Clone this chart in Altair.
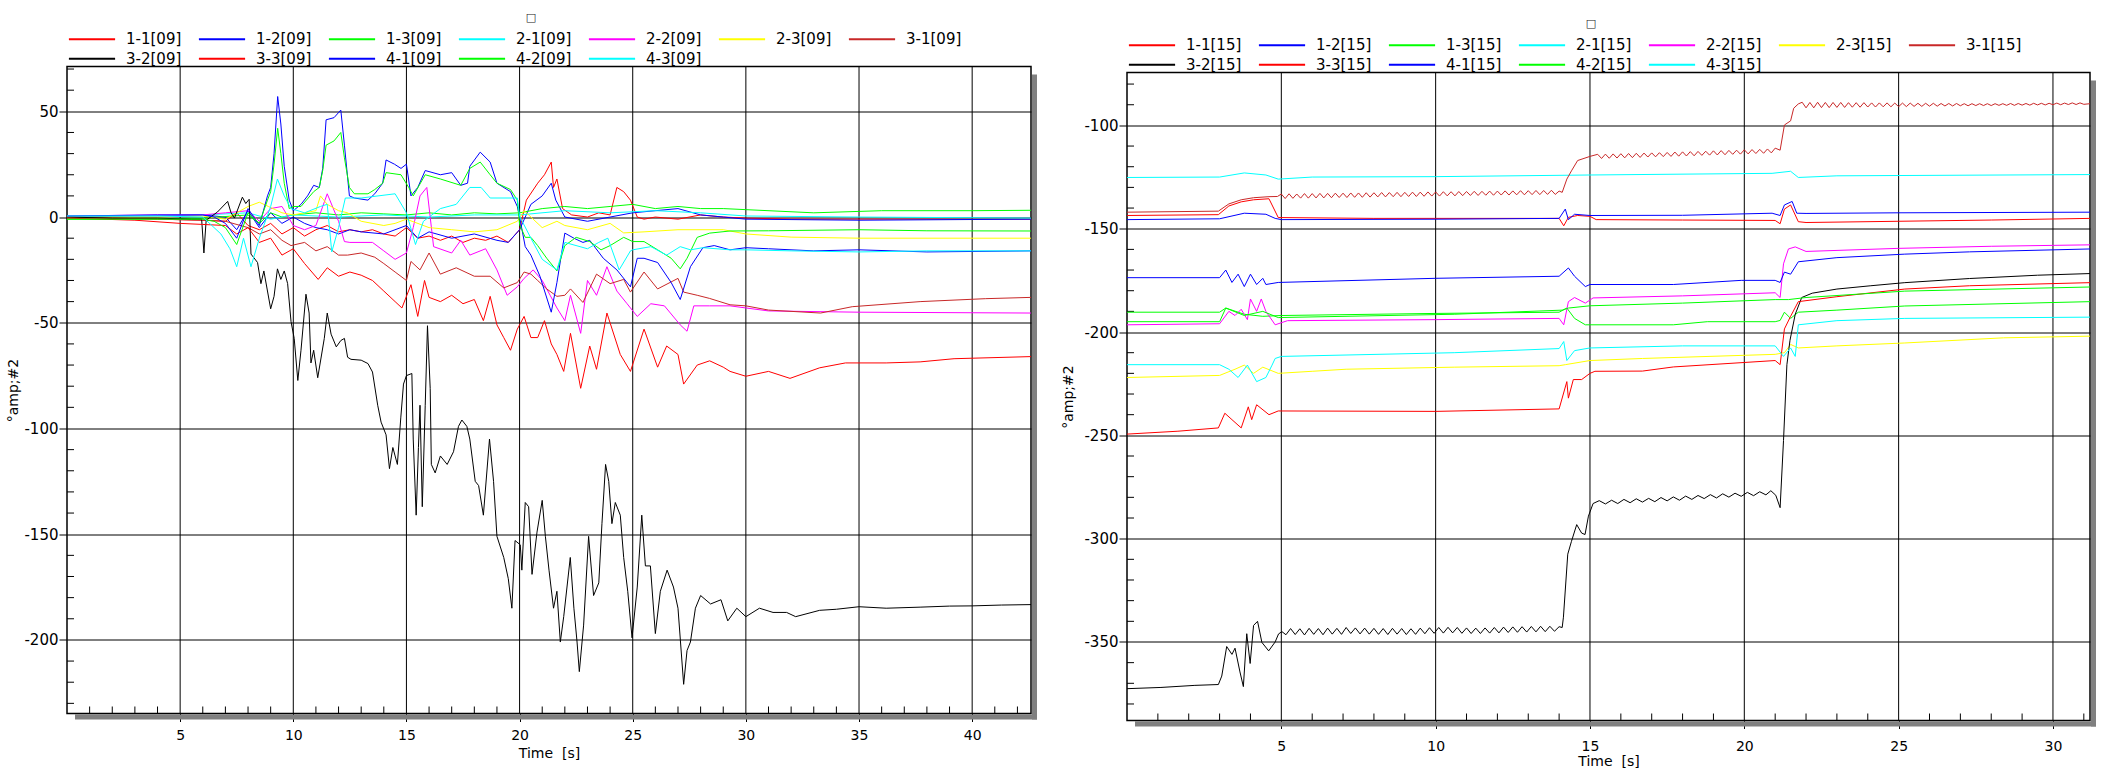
import altair as alt
import pandas as pd

# ---------------- legend labels & colours ----------------
CODES = ["1-1", "1-2", "1-3", "2-1", "2-2", "2-3", "3-1", "3-2", "3-3", "4-1", "4-2", "4-3"]
COLORS = ["#FF0000", "#0000FF", "#00FF00", "#00FFFF", "#FF00FF", "#FFFF00",
          "#C82828", "#000000", "#FF0000", "#0000FF", "#00FF00", "#00FFFF"]

# ---------------- left panel [09]  (time s, value) ----------------
P09_11 = [(0,0),(2,-0.5),(4,-1),(6,-1.5),(7,-2),(7.5,2),(8,-4),(8.5,-6),(9,-3),(9.5,-8),(10,-5),(10.5,-9),(11,-6),(11.5,-4),(12,-7),(12.5,-6),(13,-7),(13.5,-6),(14,-8),(14.5,-9),(15,-5),(15.5,-10),(16,-9),(16.5,-11),(17,-9),(17.5,-12),(18,-10),(18.5,-11),(19,-9),(19.5,-12),(20,-6),(20.3,8),(20.8,16),(21.1,20),(21.4,26),(21.5,14),(21.65,18),(21.9,4),(22.3,1),(23,0),(23.5,2),(24,1),(24.3,14),(24.6,12),(24.9,8),(25.2,0),(25.5,-1),(26,0),(27,-1),(28,1),(29,0),(30,-0.5),(32,-1),(35,-1),(38,-1),(42.6,-1)]
P09_12 = [(0,0),(3,0.5),(6,1),(7,0),(7.5,-6),(8,3),(8.5,-5),(9,2),(9.5,-3),(10,0),(10.5,-3),(11,-5),(11.5,-6),(12,-8),(12.5,-6),(13,-7),(14,-8),(15,-4),(15.5,-10),(16,-7),(17,-10),(18,-8),(19,-11),(19.5,-12),(20,-6),(20.5,6),(21,10),(21.4,16),(21.6,8),(22,0),(23,-2),(24,0),(25,2),(26,3),(27,4),(28,1),(29,0),(30,-1),(35,-1.5),(42.6,-1)]
P09_13 = [(0,-1),(3,-1),(6,-0.5),(8,1),(8.5,-3),(9,2),(9.5,0),(10,1),(11,2),(12,1),(13,2),(14,1.5),(15,1),(16,2),(17,1),(18,2),(19,1.5),(20,2),(21,4),(22,5),(23,4),(24,5),(25,6),(26,4),(27,5),(28,4),(29,4),(30,3.5),(33,2),(36,3),(40,3),(42.6,3.2)]
P09_21 = [(0,0.5),(4,0.5),(6,1),(8,2),(9,-1),(10,1),(12,0),(14,1),(16,0),(18,1),(20,1),(22,3),(24,2),(26,3),(28,2),(30,0.5),(35,0),(42.6,-0.5)]
P09_22 = [(0,0.5),(4,1),(6,1),(7,2),(8,3),(8.5,-2),(9,4),(9.5,5),(10,-4),(10.5,-6),(11,-4),(11.5,11),(12,-2),(12.26,-11.6),(12.5,-12),(13.5,-12),(14,-16),(14.5,-20),(15,-17),(15.3,-5),(15.6,10),(15.9,14),(16.2,-14),(17,-17),(17.4,-11),(17.8,-18),(18.5,-15),(19,-25),(19.45,-37),(19.9,-33),(20.2,-29),(20.6,-25),(21,-30),(21.35,-37),(21.65,-43),(22,-49),(22.25,-37),(22.7,-55),(23,-30),(23.4,-37),(23.86,-23.5),(24.3,-35),(24.75,-41),(25.2,-47),(25.8,-41),(26.4,-42),(27.1,-51),(27.4,-54),(27.7,-42),(28.4,-42),(29.3,-42),(30,-43),(31,-44.4),(35,-45),(42.6,-45.4)]
P09_23 = [(0,0),(4,0),(6,0.5),(7,-1),(8,5),(8.5,7),(8.9,5),(9.5,2),(10,1),(11,3),(11.2,10),(11.5,6),(12,3),(12.4,2),(13,-2),(14,-4),(14.5,-3),(15,-1),(16,-5),(17,-6),(18,-7),(19,-6),(19.9,-2),(20.2,3),(20.6,-1),(21,-5),(21.65,-2),(22,-4),(23,-6),(24,-3),(24.6,-7.5),(25.5,-7),(27,-6),(29,-6),(30,-8),(32,-9.5),(35,-10),(42.6,-10)]
P09_31 = [(0,0),(4,-1),(6,-1.5),(7,-2),(8,-5),(8.5,-8),(9,-6),(9.5,-11),(9.9,-13.5),(10.5,-12),(11,-16),(11.5,-14),(12,-18),(12.4,-18),(13,-17),(13.6,-19),(14,-22),(14.5,-26),(15,-30),(15.2,-21),(15.6,-25),(16,-17),(16.5,-27),(17.2,-24),(18,-28),(18.7,-28),(19.3,-33.5),(19.9,-31),(20.2,-26),(20.5,-27),(20.8,-30),(21.2,-34),(21.65,-37.5),(22,-37),(22.25,-34),(22.8,-40.4),(23.4,-27),(24,-31.5),(24.6,-29.5),(24.9,-35.5),(25.5,-26),(26.1,-34),(27,-29),(27.25,-35.5),(27.85,-37),(28.4,-38.5),(29.3,-41.5),(30,-42),(31,-44),(33.3,-45.4),(34.7,-42.4),(37.7,-40),(40.6,-38.6),(42.6,-38)]
P09_32 = [(0,0),(2,-0.5),(4,-0.5),(5.5,-1),(5.95,-1),(6.05,-17),(6.15,-1.5),(6.65,2.4),(7.1,7.4),(7.25,2),(7.4,-0.5),(7.75,9.4),(7.9,6.4),(8.05,8.4),(8.13,-17.5),(8.42,-21.5),(8.57,-31.5),(8.7,-25.5),(9.0,-43.4),(9.15,-37.5),(9.3,-24.5),(9.45,-29.5),(9.6,-25.5),(9.75,-31.5),(9.9,-49.4),(10.04,-57.4),(10.2,-77.3),(10.34,-63),(10.56,-36.5),(10.7,-45.4),(10.78,-69),(10.9,-63),(11.08,-76),(11.37,-57.4),(11.5,-45.4),(11.67,-55.4),(11.9,-61.4),(12.1,-58.4),(12.26,-57.4),(12.4,-66.3),(12.55,-67.3),(13.0,-67.7),(13.3,-69.3),(13.5,-73.3),(13.73,-89),(13.88,-97),(14.1,-103),(14.25,-119),(14.4,-109),(14.5,-113),(14.6,-117),(14.75,-95),(14.87,-79),(15.0,-75),(15.24,-74),(15.3,-105),(15.43,-141),(15.53,-109),(15.6,-89),(15.7,-137),(15.83,-89),(15.93,-51.4),(16.05,-81),(16.1,-117),(16.27,-121),(16.5,-113),(16.8,-117),(17.08,-111),(17.3,-99),(17.45,-96),(17.67,-99),(17.8,-105),(18.04,-125),(18.19,-127),(18.4,-141),(18.67,-105),(18.85,-125),(19.0,-151),(19.3,-161),(19.5,-171),(19.66,-185),(19.8,-153),(20.03,-155),(20.1,-167),(20.25,-135),(20.4,-137),(20.55,-169),(20.77,-149),(21.0,-134),(21.14,-151),(21.3,-167),(21.5,-185),(21.65,-177),(21.8,-201),(21.95,-189),(22.24,-161),(22.4,-185),(22.54,-201),(22.64,-215),(22.83,-193),(23.05,-151),(23.27,-179),(23.5,-173),(23.64,-145),(23.8,-117),(23.94,-125),(24.08,-145),(24.23,-135),(24.45,-141),(24.6,-161),(24.78,-177),(24.97,-199),(25.2,-175),(25.4,-141),(25.56,-165),(25.78,-165),(26.0,-197),(26.22,-177),(26.52,-167),(26.8,-175),(27.0,-185),(27.25,-221),(27.4,-205),(27.55,-201),(27.77,-185),(28.0,-179),(28.44,-183),(28.9,-181),(29.2,-191),(29.6,-185),(30.0,-189),(30.6,-185),(31.2,-187),(31.8,-187),(32.2,-189),(33.26,-186),(34,-185.5),(35,-184.3),(36.2,-185),(37.7,-184.5),(39,-184),(40,-183.9),(41.3,-183.5),(42.6,-183.3)]
P09_33 = [(0,-0.5),(3,-1.5),(5,-3),(6,-3.5),(7,-4),(7.5,-8),(8,-5),(8.5,-12),(9,-10),(9.5,-18),(10,-15),(10.5,-22),(11.1,-29.5),(11.5,-24),(12,-28),(12.5,-26),(13,-27.5),(13.5,-30),(14,-35),(14.5,-40),(14.8,-43),(15.2,-32),(15.5,-47),(15.8,-30),(16,-38),(16.5,-40),(17,-37),(17.5,-41),(18,-39),(18.4,-49),(18.7,-37.5),(19,-51),(19.3,-57),(19.6,-63),(19.9,-53),(20.2,-47),(20.5,-57),(20.8,-57),(21.1,-49),(21.4,-60),(21.65,-65),(21.95,-73),(22.25,-55),(22.7,-81),(23.1,-61),(23.4,-72),(23.86,-45.4),(24.45,-65),(24.9,-73),(25.5,-53),(26.1,-71),(26.5,-61),(27,-65),(27.25,-79),(27.85,-70),(28.4,-68),(29,-71),(29.3,-73),(30,-75.3),(31,-73),(31.95,-76.3),(33.26,-71.3),(34.4,-69),(36.2,-69),(37.7,-68.5),(39.2,-67),(42.6,-66)]
P09_41 = [(0,0.5),(4,1),(6,1),(6.5,0),(7,-3),(7.5,-10),(8,4),(8.5,-4),(8.86,10),(9.0,14),(9.15,30),(9.31,57),(9.45,44),(9.6,24),(9.82,8),(10.0,3),(10.34,6),(10.63,10),(10.9,15),(11.15,14),(11.3,23),(11.45,46),(11.8,47),(12.1,50.6),(12.26,34),(12.48,10),(12.7,9),(13.3,8),(13.6,11),(13.95,16),(14.1,27),(14.47,25),(14.76,23),(15.0,25),(15.2,10),(15.5,14),(15.83,22),(16.5,20),(17.0,21),(17.4,15),(17.7,16),(17.8,24),(18.26,30.7),(18.7,26),(19.0,16),(19.6,12),(19.9,5),(20.0,0),(20.25,-14),(20.5,-18),(20.9,-28),(21.4,-45),(21.65,-31),(22.0,-7.6),(22.4,-10),(22.8,-12),(23.1,-11),(23.7,-19.5),(24.3,-25),(24.9,-33),(25.2,-19.5),(25.5,-19.5),(26.1,-21.5),(26.7,-31),(27.1,-39),(27.55,-23.5),(28.1,-14.5),(28.6,-13.5),(29.3,-15.5),(30,-14.5),(31,-15),(33,-16),(35,-15.5),(38,-16.5),(42.6,-16)]
P09_42 = [(0,-1),(4,-1),(6,-1),(6.5,-2),(7,-5),(7.5,-13),(8,2),(8.5,-3),(8.86,8),(9.0,12),(9.15,25),(9.31,42),(9.45,30),(9.6,16),(9.82,4),(10.0,5),(10.34,5),(10.9,12),(11.15,14),(11.3,22),(11.45,34),(11.8,36),(12.1,40),(12.26,28),(12.48,14),(12.7,11),(13.3,11),(13.6,13),(13.95,16),(14.1,21),(14.76,20),(15.1,14),(15.3,10),(15.83,20),(16.5,18),(17.4,15),(17.8,23),(18.26,26),(18.7,20),(19.0,16),(19.6,13),(19.9,8),(20.0,-3.6),(20.25,-9.6),(20.5,-9.6),(20.8,-13.5),(21.2,-19.5),(21.65,-25.5),(22.0,-13.5),(22.5,-9.6),(23.1,-11.6),(23.6,-15.5),(24.0,-13.5),(24.6,-9.6),(25.0,-11.6),(25.5,-11.6),(26.1,-15.5),(26.7,-19.5),(27.1,-24.5),(27.4,-19.5),(27.85,-9.6),(28.4,-7.6),(29.3,-6.6),(31,-6.5),(35,-6),(38,-6.5),(42.6,-6.6)]
P09_43 = [(0,0.5),(4,0.5),(6,0),(6.8,-8),(7.2,-15),(7.5,-23.5),(7.8,-10),(8.13,-23.5),(8.5,-10),(9.0,5),(9.3,18),(9.6,10),(9.9,4),(10.5,2),(11.2,5),(11.5,6),(11.7,-16.5),(12.0,-5),(12.3,9),(13,9),(14.5,11),(15.0,2),(15.4,-13),(15.75,-2),(16.5,4),(17.2,6),(17.8,14),(18.3,14),(18.7,9),(19.9,9),(20.0,0.4),(20.5,-10),(21.0,-20),(21.65,-25),(22.0,-12),(23.0,-15),(23.5,-12),(23.9,-10),(24.4,-25),(24.9,-16),(25.0,-15.5),(25.8,-14),(26.5,-18),(27.1,-14),(27.55,-15.5),(28.1,-14.5),(29.3,-15.5),(30,-15.5),(32,-16),(35,-16.5),(38,-16),(42.6,-16)]

# ---------------- right panel [15]  (time s, value) ----------------
P15_11 = [(0,-143.6),(2.96,-143.2),(3.3,-139),(3.7,-137),(4.1,-136),(4.6,-135.5),(4.9,-144.6),(8,-145),(14.0,-145),(14.15,-148.6),(14.3,-144.5),(14.6,-143.6),(15,-144),(15.2,-145.6),(18,-145.8),(21.0,-146),(21.16,-147.6),(21.3,-140.5),(21.5,-138.5),(21.75,-146.6),(22,-147),(25,-146.4),(28,-145.8),(31.2,-145)]
P15_12 = [(0,-145.6),(3,-145.2),(3.8,-142.5),(4.5,-143),(4.8,-145),(5,-145.6),(10,-145.4),(14.0,-145),(14.2,-140.5),(14.3,-145.6),(14.5,-143),(15,-143.6),(18,-143.5),(20.9,-142.5),(21.16,-143.6),(21.3,-138.5),(21.55,-136.8),(21.7,-142.5),(22,-142.6),(25,-142.3),(31.2,-142)]
P15_13 = [(0,-190.4),(3,-190.4),(3.2,-188.4),(3.8,-191.4),(4.4,-192.4),(5,-192),(10,-191),(14.0,-190.4),(14.25,-188.4),(14.5,-193.4),(14.85,-196.5),(15,-196.5),(17.7,-196.5),(18.8,-195),(21,-195),(21.16,-194.4),(21.3,-190.4),(21.5,-193.4),(21.75,-190.4),(23,-189.4),(25.2,-187.4),(31.2,-185.3)]
P15_21 = [(0,-125.2),(3,-125),(3.8,-123),(4.5,-124),(4.9,-126),(6,-125),(10,-124.8),(15,-124),(20.9,-123.2),(21.5,-122.2),(21.75,-125.2),(23,-124.4),(31.2,-123.8)]
P15_22 = [(0,-196.5),(3,-196),(3.3,-190),(3.5,-192),(3.7,-189),(3.9,-194),(4.0,-184),(4.2,-190),(4.35,-184),(4.5,-190),(4.8,-196.5),(5.2,-194.5),(10,-194),(14.0,-193.4),(14.15,-196.5),(14.3,-185.3),(14.5,-183.3),(14.85,-186),(15.1,-183.5),(18,-182.5),(21,-181),(21.16,-183.3),(21.27,-167),(21.43,-159.8),(21.65,-158.8),(22,-161),(25,-159.5),(28,-158.5),(31.2,-157.8)]
P15_23 = [(0,-222),(3,-221),(3.5,-218),(3.8,-216),(4.1,-220),(4.4,-217),(4.9,-220),(6,-219),(7.1,-218),(10.6,-217),(14,-216.3),(14.2,-215.8),(15,-213.8),(16.7,-212.8),(21,-210.8),(21.3,-210),(21.5,-206),(21.75,-207.7),(23,-206.7),(25.2,-205.3),(28.4,-202.8),(31.2,-202)]
P15_31 = [(0,-142),(2.96,-141.5),(3.3,-138),(3.7,-136),(4.1,-135),(4.6,-134.5),(4.875,-134.4),
          (5.0,-133.2),(5.125,-135.4),(5.25,-133.1),(5.375,-135.3),(5.5,-133.2),(5.625,-135.2),(5.75,-133.0),(5.875,-135.2),
          (6.0,-133.0),(6.125,-135.1),(6.25,-132.9),(6.375,-135.1),(6.5,-132.9),(6.625,-135.0),(6.75,-132.8),(6.875,-134.9),
          (7.0,-132.8),(7.125,-134.9),(7.25,-132.7),(7.375,-134.8),(7.5,-132.7),(7.625,-134.8),(7.75,-132.6),(7.875,-134.7),
          (8.0,-132.6),(8.125,-134.6),(8.25,-132.5),(8.375,-134.6),(8.5,-132.5),(8.625,-134.5),(8.75,-132.4),(8.875,-134.5),
          (9.0,-132.4),(9.125,-134.4),(9.25,-132.3),(9.375,-134.4),(9.5,-132.3),(9.625,-134.3),(9.75,-132.2),(9.875,-134.2),
          (10.0,-132.2),(10.125,-134.2),(10.25,-132.1),(10.375,-134.1),(10.5,-132.1),(10.625,-134.1),(10.75,-132.0),(10.875,-134.0),
          (11.0,-132.0),(11.125,-133.9),(11.25,-131.9),(11.375,-133.9),(11.5,-131.9),(11.625,-133.8),(11.75,-131.8),(11.875,-133.8),
          (12.0,-131.8),(12.125,-133.7),(12.25,-131.7),(12.375,-133.7),(12.5,-131.7),(12.625,-133.6),(12.75,-131.6),(12.875,-133.6),
          (13.0,-131.6),(13.125,-133.5),(13.25,-131.5),(13.375,-133.5),(13.5,-131.5),(13.625,-133.4),(13.75,-131.4),(13.875,-133.4),
          (14.0,-131.8),(14.1,-132.4),(14.25,-126),(14.4,-122),(14.6,-117),(15,-115),
          (15.25,-114.0),(15.375,-116.0),(15.5,-113.9),(15.625,-115.9),(15.75,-113.8),(15.875,-115.8),(16.0,-113.7),(16.125,-115.7),
          (16.25,-113.6),(16.375,-115.6),(16.5,-113.5),(16.625,-115.5),(16.75,-113.4),(16.875,-115.3),(17.0,-113.3),(17.125,-115.2),
          (17.25,-113.2),(17.375,-115.1),(17.5,-113.1),(17.625,-115.0),(17.75,-112.9),(17.875,-114.9),(18.0,-112.8),(18.125,-114.8),
          (18.25,-112.7),(18.375,-114.7),(18.5,-112.6),(18.625,-114.5),(18.75,-112.5),(18.875,-114.4),(19.0,-112.3),(19.125,-114.3),
          (19.25,-112.2),(19.375,-114.2),(19.5,-112.1),(19.625,-114.0),(19.75,-112.0),(19.875,-113.9),(20.0,-111.8),(20.125,-113.8),
          (20.25,-111.7),(20.375,-113.6),(20.5,-111.6),(20.625,-113.5),(20.75,-111.4),(20.875,-113.3),(21.0,-111.0),
          (21.16,-112),(21.3,-99.8),(21.5,-97.8),(21.6,-91.7),(21.75,-89.6),
          (21.875,-88.8),(22.0,-91.5),(22.125,-88.9),(22.25,-91.5),(22.375,-88.8),(22.5,-91.4),(22.625,-88.9),(22.75,-91.4),
          (22.875,-88.9),(23.0,-91.3),(23.125,-88.9),(23.25,-91.3),(23.375,-89.0),(23.5,-91.2),(23.625,-89.0),(23.75,-91.2),
          (23.875,-89.0),(24.0,-91.1),(24.125,-89.1),(24.25,-91.1),(24.375,-89.1),(24.5,-91.0),(24.625,-89.1),(24.75,-91.0),
          (24.875,-89.2),(25.0,-90.9),(25.125,-89.2),(25.25,-90.9),(25.375,-89.2),(25.5,-90.8),(25.625,-89.3),(25.75,-90.8),
          (25.875,-89.3),(26.0,-90.7),(26.125,-89.3),(26.25,-90.7),(26.375,-89.4),(26.5,-90.6),(26.625,-89.4),(26.75,-90.6),
          (26.875,-89.4),(27.0,-90.5),(27.125,-89.5),(27.25,-90.5),(27.375,-89.5),(27.5,-90.4),(27.625,-89.5),(27.75,-90.4),
          (27.875,-89.5),(28.0,-90.4),(28.125,-89.5),(28.25,-90.3),(28.375,-89.5),(28.5,-90.3),(28.625,-89.4),(28.75,-90.3),
          (28.875,-89.4),(29.0,-90.2),(29.125,-89.4),(29.25,-90.2),(29.375,-89.3),(29.5,-90.1),(29.625,-89.3),(29.75,-90.1),
          (29.875,-89.3),(30.0,-90.0),(30.125,-89.2),(30.25,-90.0),(30.375,-89.2),(30.5,-89.9),(30.625,-89.1),(30.75,-89.9),
          (30.875,-89.1),(31.0,-89.8),(31.2,-89.5)]
P15_32 = [(0,-372.6),(1.1,-372),(2.2,-371),(2.96,-370.6),(3.07,-366.5),(3.23,-352.2),(3.4,-356),(3.5,-353),(3.66,-364.5),(3.77,-371.6),(3.88,-346),(3.99,-360.4),(4.1,-342),(4.23,-340),(4.37,-350.2),(4.59,-354.3),(4.8,-350),(4.91,-346.1),(5.02,-345),
          (5.15,-346.5),(5.3,-343.5),(5.45,-346.4),(5.6,-343.6),(5.75,-346.6),(5.9,-343.4),(6.05,-346.3),(6.2,-343.5),(6.35,-346.5),(6.5,-343.3),
          (6.65,-346.2),(6.8,-343.4),(6.95,-346.3),(7.1,-343.0),(7.25,-345.9),(7.4,-343.2),(7.55,-346.1),(7.7,-343.3),(7.85,-346.2),(8.0,-343.4),
          (8.15,-346.3),(8.3,-343.5),(8.45,-346.4),(8.6,-343.4),(8.75,-346.2),(8.9,-343.5),(9.05,-346.4),(9.2,-343.6),(9.35,-346.3),(9.5,-343.3),
          (9.65,-346.0),(9.8,-343.1),(9.95,-345.8),(10.1,-343.0),(10.25,-345.7),(10.4,-342.9),(10.55,-345.6),(10.7,-343.0),(10.85,-345.8),(11.0,-343.2),
          (11.15,-345.9),(11.3,-343.3),(11.45,-345.9),(11.6,-343.2),(11.75,-345.7),(11.9,-343.0),(12.05,-345.6),(12.2,-342.8),(12.35,-345.4),(12.5,-342.7),
          (12.65,-345.3),(12.8,-342.6),(12.95,-345.2),(13.1,-342.5),(13.25,-345.1),(13.4,-342.4),(13.55,-345.0),(13.7,-342.4),(13.85,-344.8),(14.0,-342.6),
          (14.1,-343),(14.14,-338),(14.28,-307.5),(14.4,-301.3),(14.57,-293.2),(14.73,-297.3),(14.84,-298),(14.95,-289.1),(15.1,-283),
          (15.3,-281.6),(15.5,-283.2),(15.7,-281.4),(15.9,-283.0),(16.1,-281.0),(16.3,-282.6),(16.5,-280.7),(16.7,-282.3),(16.9,-280.5),(17.1,-282.1),
          (17.3,-280.1),(17.5,-281.7),(17.7,-279.8),(17.9,-281.4),(18.1,-279.4),(18.3,-281.0),(18.5,-279.1),(18.7,-280.6),(18.9,-278.7),(19.1,-280.3),
          (19.3,-278.3),(19.5,-279.9),(19.7,-278.0),(19.9,-279.5),(20.1,-277.6),(20.3,-279.2),(20.5,-277.3),(20.7,-278.8),(20.86,-276.8),
          (21.02,-279),(21.16,-285),(21.27,-252.5),(21.38,-215.8),(21.48,-204),(21.65,-191.4),(21.86,-183.3),(22.2,-181.2),(23,-179.2),(24.1,-177.6),(25.2,-176.1),(27.3,-174.1),(29.5,-172.5),(31.2,-171.7)]
P15_33 = [(0,-249.4),(1.65,-248),(2.96,-246.4),(3.17,-239.3),(3.4,-242.4),(3.7,-246.4),(3.93,-236.2),(4.04,-242.4),(4.2,-235.2),(4.6,-240),(4.9,-238.2),(10,-238.4),(14.0,-237.2),(14.25,-224),(14.3,-232),(14.46,-223),(14.73,-223),(15.0,-220),(15.16,-219),(16.7,-218.9),(17.7,-216.9),(21.0,-213.8),(21.16,-215.8),(21.3,-198.5),(21.5,-192.4),(21.75,-185.3),(23,-182.9),(25.2,-179.2),(27.3,-177.6),(31.2,-176.1)]
P15_41 = [(0,-173.7),(3,-173.7),(3.2,-170),(3.4,-176),(3.6,-172),(3.8,-178),(4.0,-172),(4.2,-177),(4.4,-174),(4.5,-177),(4.9,-176),(10,-174),(14.0,-173),(14.3,-169),(14.5,-173),(14.85,-178),(15,-177),(17.7,-177),(19.9,-175),(21,-175),(21.16,-176),(21.3,-171),(21.5,-172),(21.75,-166),(23,-164),(25.2,-162.3),(27.3,-161.2),(31.2,-159.8)]
P15_42 = [(0,-195),(3,-195),(3.2,-188.4),(3.8,-192),(4.4,-190),(4.9,-193),(10.6,-191.4),(14.1,-189.4),(14.3,-188.4),(15,-187.3),(18,-186),(21,-184.3),(21.43,-184.3),(22,-183.3),(25.2,-180.2),(31.2,-178.2)]
P15_43 = [(0,-215.8),(3,-215.8),(3.3,-218),(3.6,-222),(3.9,-216),(4.2,-224),(4.5,-222),(4.7,-216),(4.8,-212.8),(5,-211.8),(10.6,-210),(14.0,-208),(14.15,-204.6),(14.25,-213.8),(14.5,-209),(15,-207.7),(18,-206.7),(21,-206.7),(21.27,-211.8),(21.5,-207.7),(21.65,-211.8),(21.75,-196.5),(23,-194.5),(25.2,-193.4),(31.2,-192.8)]

SERIES_09 = [P09_11, P09_12, P09_13, P09_21, P09_22, P09_23, P09_31, P09_32, P09_33, P09_41, P09_42, P09_43]
SERIES_15 = [P15_11, P15_12, P15_13, P15_21, P15_22, P15_23, P15_31, P15_32, P15_33, P15_41, P15_42, P15_43]

# axis tick values / domains
X_TICKS_09 = [5, 10, 15, 20, 25, 30, 35, 40]
Y_TICKS_09 = [50, 0, -50, -100, -150, -200]
X_TICKS_15 = [5, 10, 15, 20, 25, 30]
Y_TICKS_15 = [-100, -150, -200, -250, -300, -350]
X_DOMAIN_09 = [0, 42.6]
Y_DOMAIN_09 = [-234.8, 71.2]
X_DOMAIN_15 = [0, 31.2]
Y_DOMAIN_15 = [-388.0, -74.4]

Y_TITLE = "°amp;#2"
X_TITLE = "Time\u00a0\u00a0[s]"
FONT = "DejaVu Sans"


def long_df(series, tag):
    rows = []
    for code, pts in zip(CODES, series):
        for t, v in pts:
            rows.append({"t": t, "v": v, "s": f"{code}[{tag}]"})
    return pd.DataFrame(rows)


def panel(series, tag, xdom, ydom, xticks, yticks, W, H, shift, title_x, lab_pad, tit_pad):
    GH = H + shift                      # group height; plot box spans [shift, GH]
    labels = [f"{c}[{tag}]" for c in CODES]
    xs = alt.Scale(domain=xdom, nice=False, zero=False)
    ys = alt.Scale(domain=ydom, nice=False, zero=False, range=[GH, shift])
    xaxis = alt.Axis(values=xticks, title=X_TITLE, grid=False, labelFontSize=14,
                     labelPadding=lab_pad, titleFontSize=14, titlePadding=tit_pad, tickSize=8)
    yaxis = alt.Axis(values=yticks, title=Y_TITLE, grid=True, labelFontSize=15,
                     labelPadding=1, titleFontSize=14, tickSize=8, titleX=title_x,
                     titleY=shift + H / 2, titleAngle=270, titleBaseline="middle",
                     labelExpr="'' + datum.value")
    X = alt.X("t:Q", scale=xs, axis=xaxis)
    Y = alt.Y("v:Q", scale=ys, axis=yaxis)

    one = pd.DataFrame({"k": [0]})
    lo, hi = ydom
    yminor = [v for v in range(int(lo // 10 * 10), int(hi) + 1, 10) if v % 50 != 0 and lo < v < hi]
    xminor = [v for v in range(1, int(xdom[1]) + 1) if v % 5 != 0]

    spacer = alt.Chart(one).mark_rule(color="white", strokeWidth=1).encode(
        x=alt.value(0), x2=alt.value(2), y=alt.value(-60))
    shadow_r = alt.Chart(one).mark_rect(color="#808080").encode(
        x=alt.value(W + 1), x2=alt.value(W + 6), y=alt.value(shift + 8), y2=alt.value(GH + 6))
    shadow_b = alt.Chart(one).mark_rect(color="#808080").encode(
        x=alt.value(8), x2=alt.value(W + 6), y=alt.value(GH + 1), y2=alt.value(GH + 6))
    border = alt.Chart(one).mark_rect(fill="transparent", stroke="black", strokeWidth=1.5).encode(
        x=alt.value(0), x2=alt.value(W), y=alt.value(shift), y2=alt.value(GH))
    vgrid = alt.Chart(pd.DataFrame({"t": xticks})).mark_rule(color="black", strokeWidth=1).encode(
        x=X, y=alt.value(shift), y2=alt.value(GH))
    ymin = alt.Chart(pd.DataFrame({"v": yminor})).mark_rule(color="black", strokeWidth=1).encode(
        y=Y, x=alt.value(0), x2=alt.value(7))
    xmin = alt.Chart(pd.DataFrame({"t": xminor})).mark_rule(color="black", strokeWidth=1).encode(
        x=X, y=alt.value(GH - 7), y2=alt.value(GH))
    lines = alt.Chart(long_df(series, tag)).mark_line(strokeWidth=1, clip=True).encode(
        x=X, y=Y,
        color=alt.Color("s:N", scale=alt.Scale(domain=labels, range=COLORS), title=None,
                        legend=alt.Legend(orient="none", legendX=17, legendY=shift - 35.3,
                                          direction="horizontal", columns=7,
                                          symbolType="M-3.3,0H3.3", symbolSize=196,
                                          symbolStrokeWidth=2, labelFont=FONT,
                                          labelFontSize=15, labelColor="black",
                                          labelOffset=26, columnPadding=12, rowPadding=3.5,
                                          gridAlign="all", padding=0, labelLimit=300)),
    )
    box = alt.Chart(one).mark_text(text="\u25a1", fontSize=11, font=FONT, color="#222222").encode(
        x=alt.value(464), y=alt.value(shift - 49))
    layers = [spacer, shadow_r, shadow_b, vgrid, border, ymin, xmin, lines, box]
    return alt.layer(*layers).properties(
        width=W, height=GH, view=alt.ViewBackground(stroke="transparent"))


left = panel(SERIES_09, "09", X_DOMAIN_09, Y_DOMAIN_09, X_TICKS_09, Y_TICKS_09, 964, 647, 0, -54, 7, 4)
right = panel(SERIES_15, "15", X_DOMAIN_15, Y_DOMAIN_15, X_TICKS_15, Y_TICKS_15, 963, 648, 6, -59, 11, 1)

chart = (
    alt.concat(left, right, columns=2, spacing=22, align="none")
    .resolve_scale(color="independent")
    .properties(padding={"left": 5, "top": 5.5, "right": 0, "bottom": 0}, background="white")
    .configure_view(stroke="transparent")
    .configure_axis(labelFont=FONT, titleFont=FONT, labelColor="black", titleColor="black",
                    tickColor="black", gridColor="black", gridOpacity=1, gridWidth=1,
                    domain=False, zindex=1, titleFontWeight="normal", labelFlush=False)
)

chart.save("out.html", embed_options={"renderer": "svg", "actions": False})
